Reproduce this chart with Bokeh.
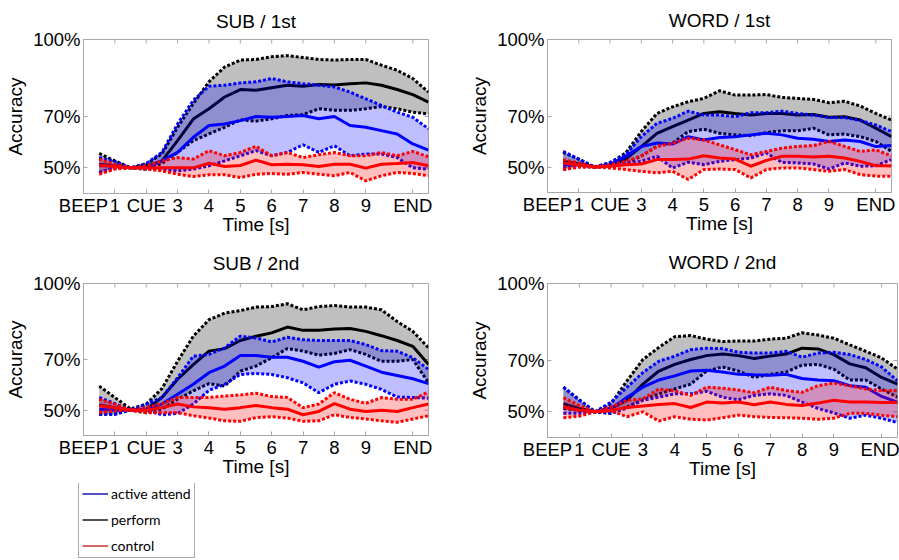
import math

from bokeh.plotting import figure
from bokeh.layouts import column, row
from bokeh.models import Range1d, FixedTicker, Legend, LegendItem
from bokeh.embed import file_html
from bokeh.resources import INLINE

# ---- data -----------------------------------------------------------------
time_s = [0.5, 1.0, 1.5, 2.0, 2.5, 3.0, 3.5, 4.0, 4.5, 5.0, 5.5,
          6.0, 6.5, 7.0, 7.5, 8.0, 8.5, 9.0, 9.5, 10.0, 10.5, 11.0]

x_tick_pos = [0, 1, 2, 3, 4, 5, 6, 7, 8, 9, 10.5]
x_tick_labels = ["BEEP", "1", "CUE", "3", "4", "5", "6", "7", "8", "9", "END"]
y_tick_pos = [50, 70, 100]
y_tick_labels = ["50%", "70%", "100%"]

panel_titles = ["SUB / 1st", "WORD / 1st", "SUB / 2nd", "WORD / 2nd"]
condition_names = ["active attend", "perform", "control"]

# SUB / 1st
sub1_perform_mean = [51.4, 50.8, 50.0, 50.5, 52.7, 60.6, 69.0, 73.0, 77.6, 80.5, 80.2,
                     81.2, 82.2, 81.8, 82.5, 82.3, 82.8, 83.1, 82.2, 80.5, 78.5, 75.6]
sub1_perform_hi = [55.6, 52.7, 50.0, 51.4, 55.4, 65.8, 75.0, 83.5, 89.3, 92.0, 92.2,
                   93.3, 93.7, 93.0, 92.2, 92.0, 92.2, 92.2, 90.0, 88.0, 84.8, 79.5]
sub1_perform_lo = [48.2, 50.0, 50.0, 49.5, 51.7, 56.0, 60.6, 63.2, 65.8, 68.7, 68.2,
                   69.1, 70.4, 70.7, 73.0, 72.4, 72.4, 73.0, 73.9, 73.0, 71.7, 71.0]
sub1_attend_mean = [50.8, 50.8, 50.0, 50.0, 52.7, 56.0, 61.9, 66.5, 67.1, 68.4, 70.0,
                    69.7, 70.0, 70.4, 69.1, 70.0, 66.5, 65.8, 64.5, 63.2, 59.3, 56.9]
sub1_attend_hi = [54.0, 52.5, 50.0, 51.7, 56.0, 67.1, 76.3, 81.8, 82.2, 83.1, 83.5,
                  84.8, 83.5, 82.8, 82.2, 81.5, 79.5, 76.9, 74.3, 71.7, 69.7, 65.2]
sub1_attend_lo = [48.2, 50.0, 50.0, 49.5, 49.5, 48.8, 49.5, 50.8, 52.7, 54.7, 56.7,
                  54.7, 56.0, 59.0, 56.0, 58.6, 54.7, 55.4, 55.4, 54.0, 50.0, 49.5]
sub1_control_mean = [51.0, 50.5, 50.0, 50.0, 50.0, 50.0, 50.0, 51.8, 50.5, 50.9, 53.0,
                     51.2, 51.4, 51.2, 50.5, 51.4, 51.4, 49.9, 51.4, 51.7, 52.1, 50.8]
sub1_control_hi = [53.4, 51.4, 50.0, 50.8, 52.7, 54.0, 53.4, 56.7, 54.7, 56.0, 58.4,
                   54.7, 56.0, 54.0, 55.1, 56.0, 54.7, 54.7, 56.0, 54.7, 56.4, 54.3]
sub1_control_lo = [47.5, 49.5, 50.0, 49.5, 48.8, 47.5, 46.6, 47.3, 47.3, 46.2, 47.5,
                   47.8, 47.5, 48.2, 47.5, 46.9, 48.2, 44.9, 46.9, 48.2, 47.8, 46.9]

# WORD / 1st
word1_perform_mean = [52.2, 51.3, 50.0, 50.6, 53.1, 58.0, 63.2, 65.8, 68.4, 71.0, 71.7,
                      71.0, 70.4, 71.0, 71.0, 70.4, 70.6, 69.5, 69.7, 68.4, 65.2, 61.9]
word1_perform_hi = [55.7, 53.1, 50.0, 51.6, 55.5, 63.9, 71.0, 73.6, 75.6, 76.9, 79.9,
                    78.2, 78.2, 78.4, 77.3, 76.9, 76.5, 75.2, 75.8, 73.9, 71.0, 68.4]
word1_perform_lo = [49.0, 50.3, 50.0, 50.3, 51.6, 54.2, 58.1, 59.4, 63.9, 64.8, 63.2,
                    62.6, 62.3, 63.5, 64.2, 64.2, 65.2, 62.6, 62.9, 61.9, 60.0, 56.1]
word1_attend_mean = [50.9, 50.9, 50.0, 50.9, 54.2, 58.0, 59.4, 59.0, 61.9, 60.6, 61.6,
                     61.9, 62.6, 63.2, 62.6, 61.3, 60.9, 60.0, 60.6, 60.0, 58.0, 58.4]
word1_attend_hi = [56.1, 53.1, 50.0, 51.8, 54.8, 61.9, 67.1, 69.1, 71.9, 70.4, 70.4,
                   69.7, 71.3, 71.3, 71.9, 71.0, 70.4, 69.4, 69.4, 68.2, 66.5, 63.9]
word1_attend_lo = [49.6, 50.3, 50.0, 50.9, 51.6, 52.2, 54.2, 49.6, 51.9, 50.9, 52.2,
                   52.9, 53.5, 55.5, 51.8, 51.6, 51.2, 49.2, 51.6, 50.3, 50.5, 52.9]
word1_control_mean = [51.6, 50.9, 50.0, 50.3, 50.9, 51.2, 52.9, 52.9, 53.1, 54.4, 53.5,
                      53.1, 50.3, 52.6, 54.2, 54.2, 53.9, 54.2, 53.5, 52.2, 50.5, 50.5]
word1_control_hi = [52.9, 51.6, 50.0, 50.9, 52.2, 54.4, 58.1, 59.4, 61.3, 60.6, 58.7,
                    56.8, 54.8, 56.1, 57.4, 58.1, 58.4, 60.0, 58.1, 56.1, 56.7, 54.4]
word1_control_lo = [49.0, 49.9, 50.0, 49.6, 49.0, 48.3, 47.7, 48.3, 45.1, 49.0, 49.2,
                    49.0, 45.7, 49.0, 49.6, 49.6, 49.0, 48.3, 49.0, 47.0, 46.4, 46.4]

# SUB / 2nd
sub2_perform_mean = [52.0, 51.0, 50.0, 50.4, 55.0, 62.2, 68.0, 73.3, 74.3, 77.5, 79.2,
                     80.5, 82.8, 81.5, 81.5, 82.0, 82.2, 81.1, 79.4, 77.5, 75.2, 68.0]
sub2_perform_hi = [59.5, 55.0, 50.5, 52.4, 58.5, 69.3, 79.2, 85.7, 88.3, 89.3, 90.7,
                   90.9, 92.0, 89.6, 90.9, 91.3, 90.7, 90.7, 89.6, 85.0, 81.1, 74.6]
sub2_perform_lo = [48.4, 48.4, 50.0, 49.0, 50.4, 54.3, 57.6, 60.5, 59.5, 65.4, 67.4,
                   70.7, 74.3, 73.3, 71.7, 72.4, 73.9, 72.0, 69.3, 69.3, 70.0, 60.8]
sub2_attend_mean = [50.4, 50.0, 50.0, 50.4, 52.4, 56.3, 60.2, 64.8, 67.4, 71.6, 71.6,
                    70.9, 70.9, 69.3, 67.0, 69.1, 69.7, 67.4, 65.0, 63.7, 62.4, 60.5]
sub2_attend_hi = [55.0, 52.6, 50.0, 52.4, 55.0, 62.8, 71.3, 72.0, 74.6, 79.2, 78.5,
                  76.9, 78.8, 77.8, 77.5, 77.5, 77.5, 75.9, 73.5, 73.3, 70.7, 66.1]
sub2_attend_lo = [48.4, 48.4, 50.0, 50.0, 48.2, 48.7, 52.4, 57.8, 60.2, 64.1, 64.5,
                  64.1, 62.8, 60.8, 56.9, 60.2, 61.5, 60.2, 58.2, 55.2, 55.0, 54.7]
sub2_control_mean = [51.7, 51.0, 50.0, 50.0, 51.0, 52.4, 51.3, 51.0, 50.4, 51.0, 51.8,
                     51.0, 50.4, 48.2, 49.5, 52.6, 50.4, 49.5, 50.0, 49.5, 51.0, 52.4]
sub2_control_hi = [54.3, 52.4, 50.0, 51.0, 52.6, 55.0, 55.0, 55.0, 55.6, 56.0, 56.7,
                   55.4, 55.0, 51.0, 52.4, 56.9, 54.3, 52.7, 55.0, 54.3, 54.3, 57.2]
sub2_control_lo = [49.0, 49.7, 50.0, 49.0, 49.0, 49.0, 47.8, 46.9, 45.8, 45.6, 47.1,
                   47.4, 46.9, 45.6, 45.8, 48.2, 47.1, 46.5, 45.8, 45.2, 46.5, 47.8]

# WORD / 2nd
word2_perform_mean = [53.2, 51.3, 50.0, 51.3, 54.5, 60.8, 65.9, 68.5, 70.4, 71.9, 72.5,
                      71.9, 70.8, 71.7, 72.5, 74.8, 74.5, 72.3, 68.7, 67.2, 63.4, 60.8]
word2_perform_hi = [59.6, 54.7, 50.0, 53.2, 62.1, 70.4, 75.1, 79.3, 79.7, 78.3, 77.4,
                    77.6, 77.6, 78.3, 78.7, 80.8, 79.9, 78.7, 76.1, 73.6, 71.0, 66.6]
word2_perform_lo = [51.3, 50.6, 50.0, 49.4, 51.9, 54.7, 57.0, 58.9, 60.8, 65.9, 67.5,
                    65.9, 63.4, 64.6, 65.5, 68.2, 68.5, 66.6, 62.4, 62.4, 58.9, 55.7]
word2_attend_mean = [51.9, 50.6, 50.0, 51.3, 55.7, 59.6, 62.4, 64.0, 65.9, 66.2, 65.5,
                     64.6, 64.4, 64.3, 64.6, 63.0, 62.4, 62.1, 60.2, 59.6, 56.0, 53.8]
word2_attend_hi = [59.6, 54.5, 50.0, 53.8, 59.6, 65.3, 69.7, 71.7, 74.2, 74.8, 74.6,
                   73.2, 72.9, 72.9, 73.6, 71.3, 72.9, 73.2, 72.3, 70.4, 67.5, 62.1]
word2_attend_lo = [49.4, 49.4, 50.0, 49.4, 51.5, 54.5, 55.7, 57.0, 57.0, 58.0, 55.7,
                   54.7, 56.4, 57.0, 56.4, 53.8, 51.3, 49.6, 47.5, 48.7, 47.5, 45.8]
word2_control_mean = [51.9, 50.6, 50.0, 50.6, 51.7, 52.3, 52.9, 53.2, 51.7, 53.8, 53.4,
                      53.8, 52.8, 53.8, 52.9, 52.5, 53.4, 54.5, 53.8, 53.8, 53.6, 53.6]
word2_control_hi = [55.5, 52.5, 50.0, 51.9, 54.5, 55.1, 58.9, 58.3, 56.4, 59.6, 59.2,
                    58.5, 57.4, 59.6, 58.3, 57.6, 60.2, 61.2, 60.2, 58.9, 58.3, 58.3]
word2_control_lo = [47.7, 48.3, 50.0, 50.4, 48.1, 50.0, 46.4, 48.1, 47.1, 46.8, 47.7,
                    48.7, 48.1, 47.8, 47.7, 47.5, 47.1, 47.5, 49.4, 49.4, 48.7, 48.1]

# ---- styling ----------------------------------------------------------------
FONT = "Liberation Sans"
FRAME_GREY = "#a8a8a8"
LINE_COLORS = {"perform": "#000000", "attend": "#0000ff", "control": "#ff0000"}
X_MIN, X_MAX = 0, 11
Y_MIN, Y_MAX = 40, 100


def make_panel(title, series, width, height, border, frame_w, frame_h, title_standoff):
    left, right, top, bottom = border
    p = figure(width=width, height=height, frame_width=frame_w, frame_height=frame_h,
               x_range=Range1d(X_MIN, X_MAX), y_range=Range1d(Y_MIN, Y_MAX),
               toolbar_location=None, output_backend="svg",
               min_border_left=left, min_border_right=right,
               min_border_top=top, min_border_bottom=bottom,
               background_fill_color="white", border_fill_color="white")
    p.title.text = title
    p.title.text_font = FONT
    p.title.text_font_size = "19px"
    p.title.text_font_style = "normal"
    p.title.text_color = "#000000"
    p.title.align = "center"
    p.title.vertical_align = "middle"
    p.title.standoff = title_standoff
    p.outline_line_color = FRAME_GREY
    p.xgrid.visible = False
    p.ygrid.visible = False

    xa, ya = p.xaxis[0], p.yaxis[0]
    xa.ticker = FixedTicker(ticks=x_tick_pos, minor_ticks=[])
    ya.ticker = FixedTicker(ticks=y_tick_pos, minor_ticks=[])
    xa.major_label_overrides = {float(k): v for k, v in zip(x_tick_pos, x_tick_labels)}
    ya.major_label_overrides = {float(k): v for k, v in zip(y_tick_pos, y_tick_labels)}
    xa.axis_label = "Time [s]"
    ya.axis_label = "Accuracy"
    for ax in (xa, ya):
        ax.axis_line_color = FRAME_GREY
        ax.major_tick_line_color = FRAME_GREY
        ax.major_tick_in = 4
        ax.major_tick_out = 0
        ax.minor_tick_line_color = None
        ax.major_label_text_font = FONT
        ax.major_label_text_font_size = "18.5px"
        ax.major_label_text_color = "#000000"
        ax.axis_label_text_font = FONT
        ax.axis_label_text_font_size = "19px"
        ax.axis_label_text_font_style = "normal"
        ax.axis_label_text_color = "#000000"
    xa.major_label_standoff = 1
    ya.major_label_standoff = 3
    xa.axis_label_standoff = -5
    ya.axis_label_standoff = 4

    # inward tick marks mirrored on the top and right edges of the box
    p.ray(x=x_tick_pos, y=[Y_MAX] * len(x_tick_pos), length=4, length_units="screen",
          angle=-math.pi / 2, line_color=FRAME_GREY, line_width=1)
    p.ray(x=[X_MAX] * len(y_tick_pos), y=y_tick_pos, length=4, length_units="screen",
          angle=math.pi, line_color=FRAME_GREY, line_width=1)

    # shaded bands, dotted bounds and solid means, one condition at a time
    for key, mean, lo, hi in series:
        c = LINE_COLORS[key]
        p.varea(x=time_s, y1=lo, y2=hi, fill_color=c, fill_alpha=0.25)
        p.line(time_s, lo, line_color=c, line_width=3, line_dash="3 2")
        p.line(time_s, hi, line_color=c, line_width=3, line_dash="3 2")
        p.line(time_s, mean, line_color=c, line_width=3)
    return p


p1 = make_panel(panel_titles[0], [
    ("perform", sub1_perform_mean, sub1_perform_lo, sub1_perform_hi),
    ("attend", sub1_attend_mean, sub1_attend_lo, sub1_attend_hi),
    ("control", sub1_control_mean, sub1_control_lo, sub1_control_hi)],
    450, 240, (83, 22, 38, 48), 345, 154, 14)

p2 = make_panel(panel_titles[1], [
    ("perform", word1_perform_mean, word1_perform_lo, word1_perform_hi),
    ("attend", word1_attend_mean, word1_attend_lo, word1_attend_hi),
    ("control", word1_control_mean, word1_control_lo, word1_control_hi)],
    449, 240, (97, 8, 39, 48), 344, 153, 15)

p3 = make_panel(panel_titles[2], [
    ("perform", sub2_perform_mean, sub2_perform_lo, sub2_perform_hi),
    ("attend", sub2_attend_mean, sub2_attend_lo, sub2_attend_hi),
    ("control", sub2_control_mean, sub2_control_lo, sub2_control_hi)],
    450, 243, (83, 22, 42, 49), 345, 152, 18)

p4 = make_panel(panel_titles[3], [
    ("perform", word2_perform_mean, word2_perform_lo, word2_perform_hi),
    ("attend", word2_attend_mean, word2_attend_lo, word2_attend_hi),
    ("control", word2_control_mean, word2_control_lo, word2_control_hi)],
    449, 243, (97, 2, 43, 46), 350, 154, 19)

# ---- shared legend underneath -----------------------------------------------
# The key's own figure views a range the curves never reach, so only the
# legend box is visible; the renderers exist to supply the legend glyphs.
leg_fig = figure(width=899, height=77, x_range=Range1d(0, 1), y_range=Range1d(0, 1),
                 toolbar_location=None, output_backend="svg",
                 x_axis_location=None, y_axis_location=None,
                 min_border=0, outline_line_color=None)
leg_fig.xgrid.visible = False
leg_fig.ygrid.visible = False
legend_colors = ["#1a1aaa", "#1a1a1a", "#c83232"]
legend_series = [sub1_attend_mean, sub1_perform_mean, sub1_control_mean]
items = []
for name, col, ys in zip(condition_names, legend_colors, legend_series):
    r = leg_fig.line(x=time_s, y=ys, line_color=col, line_width=1.5)
    items.append(LegendItem(label=name, renderers=[r]))
legend = Legend(items=items, location=(78, 2), margin=0, padding=3,
                spacing=9, glyph_width=26, glyph_height=17, label_height=17,
                label_standoff=3, label_text_font="Lato", label_text_font_size="14px",
                label_text_color="#000000", border_line_color="#555555",
                border_line_width=1, background_fill_color="white",
                background_fill_alpha=1.0)
leg_fig.add_layout(legend)

layout = column(row(p1, p2), row(p3, p4), leg_fig)

open("out.html", "w").write(file_html(layout, INLINE))
